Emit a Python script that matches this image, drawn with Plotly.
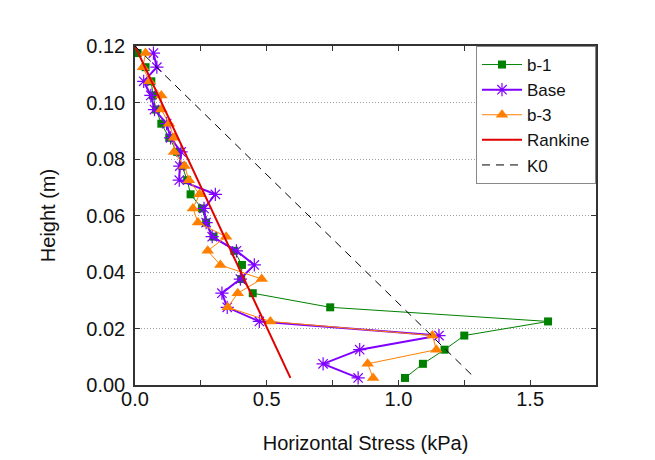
import plotly.graph_objects as go

heights = [0.0025, 0.0075, 0.0125, 0.0175, 0.0225, 0.0275, 0.0325, 0.0375,
           0.0425, 0.0475, 0.0525, 0.0575, 0.0625, 0.0675, 0.0725, 0.0775,
           0.0825, 0.0875, 0.0925, 0.0975, 0.1025, 0.1075, 0.1125, 0.1175]

b1 = [1.025, 1.093, 1.175, 1.25, 1.568, 0.741, 0.447, 0.403,
      0.406, 0.377, 0.298, 0.27, 0.254, 0.211, 0.198, 0.18,
      0.16, 0.13, 0.10, 0.08, 0.068, 0.062, 0.04, 0.01]

base = [0.847, 0.714, 0.853, 1.154, 0.472, 0.35, 0.33, 0.40,
        0.453, 0.385, 0.293, 0.27, 0.262, 0.305, 0.168, 0.17,
        0.175, 0.135, 0.12, 0.074, 0.06, 0.033, 0.083, 0.07]

b3 = [0.904, 0.883, 1.144, 1.129, 0.514, 0.352, 0.39, 0.481,
      0.324, 0.276, 0.346, 0.239, 0.22, 0.245, 0.205, 0.188,
      0.148, 0.148, 0.129, 0.10, 0.10, 0.055, 0.03, 0.04]

rankine_x = [0.0, 0.59]
rankine_h = [0.12, 0.0025]
k0_x = [0.0, 1.29]
k0_h = [0.12, 0.0025]

FONT = "Arial, Liberation Sans, sans-serif"

fig = go.Figure()
fig.add_trace(go.Scatter(x=b1, y=heights, name="b-1", mode="lines+markers",
                         line=dict(color="#008000", width=1),
                         marker=dict(symbol="square", size=8, color="#008000")))
fig.add_trace(go.Scatter(x=base, y=heights, name="Base", mode="lines+markers",
                         line=dict(color="#8000FF", width=2),
                         marker=dict(symbol="asterisk-open", size=11,
                                     line=dict(color="#8000FF", width=1.2))))
fig.add_trace(go.Scatter(x=b3, y=heights, name="b-3", mode="lines+markers",
                         line=dict(color="#FF8000", width=1),
                         marker=dict(symbol="triangle-up", size=11, color="#FF8000")))
fig.add_trace(go.Scatter(x=rankine_x, y=rankine_h, name="Rankine", mode="lines",
                         line=dict(color="#E00000", width=2)))
fig.add_trace(go.Scatter(x=k0_x, y=k0_h, name="K0", mode="lines",
                         line=dict(color="black", width=1, dash="8px,6px")))

axis_common = dict(showline=True, linecolor="#333333", linewidth=1.5,
                   mirror="ticks", ticks="inside", ticklen=5, tickcolor="#333333",
                   zeroline=False,
                   tickfont=dict(family=FONT, size=20, color="#111"))

fig.update_xaxes(range=[0, 1.75], tickvals=[0, 0.5, 1.0, 1.5],
                 ticktext=["0.0", "0.5", "1.0", "1.5"], showgrid=False,
                 ticklabelstandoff=-5,
                 minor=dict(tickvals=[0.25, 0.75, 1.25], ticks="inside", ticklen=5,
                            tickcolor="#333333"),
                 title=dict(text="Horizontal Stress (kPa)", standoff=27,
                            font=dict(family=FONT, size=20, color="#111")),
                 **axis_common)
fig.update_yaxes(range=[0, 0.12], tickvals=[0, 0.02, 0.04, 0.06, 0.08, 0.10, 0.12],
                 ticktext=["0.00", "0.02", "0.04", "0.06", "0.08", "0.10", "0.12"],
                 showgrid=True, gridcolor="#a0a0a0", griddash="1px,2px", gridwidth=1,
                 ticklabelstandoff=4,
                 title=dict(text="Height (m)", standoff=25,
                            font=dict(family=FONT, size=20, color="#111")),
                 **axis_common)

fig.update_layout(width=655, height=460,
                  margin=dict(l=127, r=67, t=38, b=83),
                  plot_bgcolor="white", paper_bgcolor="white",
                  font=dict(family=FONT, size=17, color="#111"),
                  legend=dict(x=1, xanchor="right", y=1, yanchor="top",
                              bgcolor="white", bordercolor="#888888", borderwidth=1,
                              font=dict(size=17), tracegroupgap=0,
                              itemwidth=40))

fig.write_html("out.html")
